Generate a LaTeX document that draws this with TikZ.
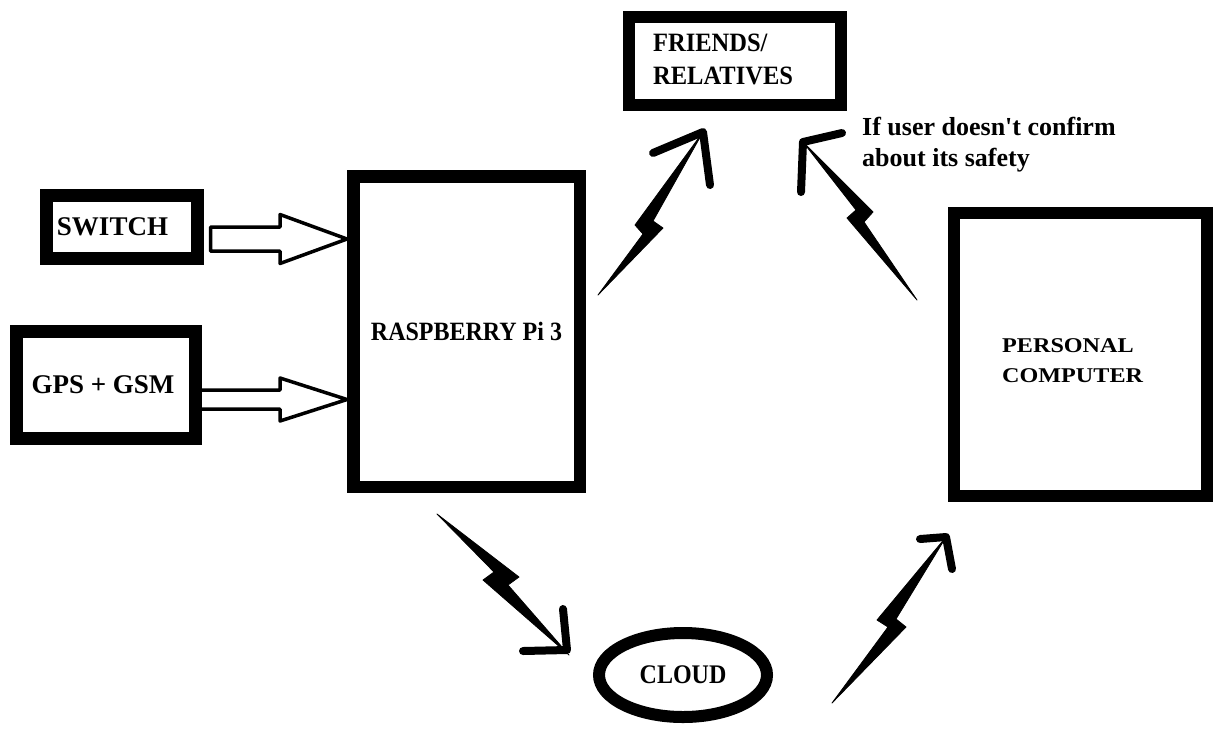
\documentclass[tikz,border=0pt]{standalone}
\usepackage{fontspec}
\usepackage{graphicx}
\setmainfont{Liberation Serif}
\usetikzlibrary{shapes.geometric,calc}
\begin{document}
\begin{tikzpicture}[x=1pt,y=-1pt,
  box/.style={draw=black,fill=white,line width=13pt,inner sep=0pt,font=\bfseries\fontsize{24}{31}\selectfont},
  lbl/.style={inner sep=0pt,font=\bfseries\fontsize{24.5}{33}\selectfont,align=left},
  hollow/.style={draw=black,line width=3.5pt,line join=round},
  boltfill/.style={fill=black,draw=black,line width=0.8pt,line join=round},
  vhead/.style={draw=black,line width=8pt,line cap=round,line join=round}]
\useasboundingbox (0,0) rectangle (1214,729);
\fill[white] (0,0) rectangle (1214,729);

% boxes
\node[box,minimum width=151pt,minimum height=63pt,font=\bfseries\fontsize{27}{31}\selectfont] (sw) at (121.5,226.5) {SWITCH\hspace*{18pt}};
\node[box,minimum width=179pt,minimum height=107pt,font=\bfseries\fontsize{27}{31}\selectfont] (gps) at (106,385) {GPS + GSM\hspace*{6pt}};
\node[box,line width=12.5pt,minimum width=226.5pt,minimum height=310.5pt] (rpi) at (466.5,331.5) {\scalebox{1}[1.1]{RASPBERRY Pi 3}};
\node[box,line width=12pt,minimum width=212pt,minimum height=88pt] (fr) at (735,61) {};
\node[lbl,anchor=west] (frt) at (653,59) {\scalebox{1}[1.08]{FRIENDS/}\\\scalebox{1}[1.08]{RELATIVES}};
\node[box,line width=12pt,minimum width=253pt,minimum height=283pt] (pc) at (1080.5,354.5) {};
\node[lbl,anchor=west,font=\bfseries\fontsize{21}{30}\selectfont] (pct) at (1002,361) {\scalebox{1.15}[1]{PERSONAL}\\\scalebox{1.15}[1]{COMPUTER}};
\node[box,ellipse,line width=12pt,minimum width=168pt,minimum height=84pt] (cl) at (683,675) {\scalebox{1}[1.12]{CLOUD}};
\node[lbl,anchor=north west,font=\bfseries\fontsize{26}{31}\selectfont] (note) at (862,117) {If user doesn\textquotesingle t confirm\\about its safety};

% hollow block arrows
\coordinate (a1s) at ($(sw.east)+(7,12.5)$);
\coordinate (a1e) at (rpi.west |- a1s);
\draw[hollow] ($(a1s)+(0,-12)$) -- ($(a1e)+(-67,-12)$) -- ($(a1e)+(-67,-24.5)$) -- (a1e)
  -- ($(a1e)+(-67,24.5)$) -- ($(a1e)+(-67,12)$) -- ($(a1s)+(0,12)$) -- cycle;
\coordinate (a2s) at ($(gps.east)+(-1,14.5)$);
\coordinate (a2e) at (rpi.west |- a2s);
\draw[hollow] ($(a2s)+(0,-9.5)$) -- ($(a2e)+(-67,-9.5)$) -- ($(a2e)+(-67,-21.5)$) -- (a2e)
  -- ($(a2e)+(-67,21.5)$) -- ($(a2e)+(-67,9.5)$) -- ($(a2s)+(0,9.5)$);

% lightning bolts
\coordinate (b1s) at (598,295);  \coordinate (b1e) at (703,132);
\coordinate (b2s) at (917,300);  \coordinate (b2e) at (803,142);
\coordinate (b3s) at (437,514);  \coordinate (b3e) at (569,655);
\coordinate (b4s) at (832,703);  \coordinate (b4e) at (946,537);

\filldraw[boltfill] (b1e) -- (635,225) -- (643,234) -- (b1s) -- (663,228) -- (653,221) -- cycle;
\filldraw[boltfill] (b2e) -- (873,212) -- (864,222) -- (b2s) -- (847,218) -- (856,210) -- cycle;
\filldraw[boltfill] (b3s) -- (519,577) -- (508,585) -- (b3e) -- (483,580) -- (494,572) -- cycle;
\filldraw[boltfill] (b4e) -- (877,620) -- (888,627) -- (b4s) -- (906,627) -- (896,619) -- cycle;

% arrow heads of the bolts
\draw[vhead] (653,153) -- (b1e) -- (710,185);
\draw[vhead] (842,133) -- (b2e) -- (801,192);
\draw[vhead] (523,651) -- (567,650) -- (563,609);
\draw[vhead] (920,539) -- (b4e) -- (952,569);
\end{tikzpicture}
\end{document}
